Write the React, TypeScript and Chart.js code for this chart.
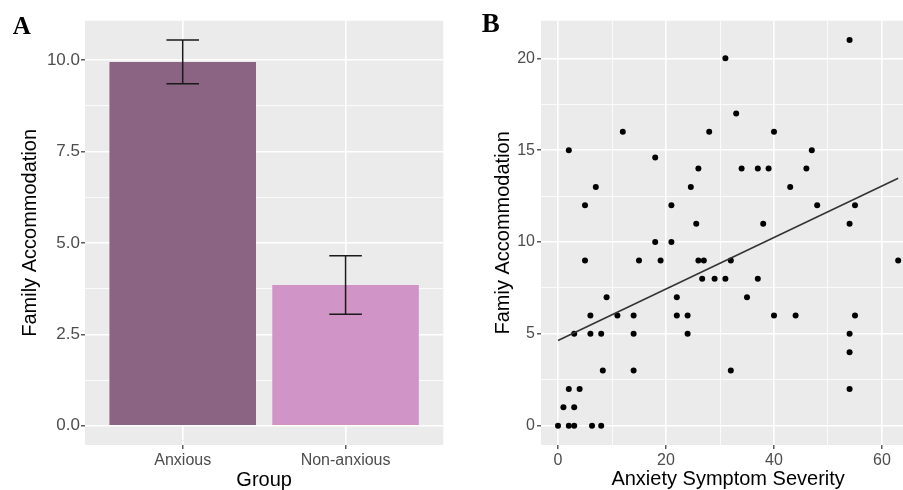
import React, { useEffect, useRef } from "react";
import { Chart, registerables } from "chart.js";
Chart.register(...registerables);

// ---------- Panel A data ----------
const groups = ["Anxious", "Non-anxious"];
const groupMeans = [9.95, 3.85];
const groupErrLow = [9.35, 3.05];
const groupErrHigh = [10.55, 4.65];
const groupColors = ["#8A6482", "#D194C6"];
const barYTicks = [0, 1.25, 2.5, 3.75, 5, 6.25, 7.5, 8.75, 10];
const barYLabels = ["0.0", "", "2.5", "", "5.0", "", "7.5", "", "10.0"];

// ---------- Panel B data ----------
const severity = [
  31, 12, 28, 2, 18, 26, 7, 24.6, 5, 21, 25.6,
  54, 33, 40, 47, 34, 37, 39, 46, 43, 48, 55, 38, 54,
  18, 21, 5, 15, 19, 26, 27, 26.7, 29, 31,
  9, 22,
  6, 11, 14, 22, 24,
  3, 6, 8, 14, 24,
  8.3, 14,
  2, 4,
  1, 3,
  0, 2, 3, 6.3, 8,
  32, 63, 37, 35, 40, 44, 55, 54, 54, 32, 54,
];
const accommodation = [
  20, 16, 16, 15, 14.6, 14, 13, 13, 12, 12, 11,
  21, 17, 16, 15, 14, 14, 14, 14, 13, 12, 12, 11, 11,
  10, 10, 9, 9, 9, 9, 9, 8, 8, 8,
  7, 7,
  6, 6, 6, 6, 6,
  5, 5, 5, 5, 5,
  3, 3,
  2, 2,
  1, 1,
  0, 0, 0, 0, 0,
  9, 9, 8, 7, 6, 6, 6, 5, 4, 3, 2,
];
const fitX = [0, 63];
const fitY = [4.64, 13.47];
const scatterXTicks = [0, 10, 20, 30, 40, 50, 60];
const scatterXLabels = ["0", "", "20", "", "40", "", "60"];
const scatterYTicks = [0, 2.5, 5, 7.5, 10, 12.5, 15, 17.5, 20];
const scatterYLabels = ["0", "", "5", "", "10", "", "15", "", "20"];

// ---------- styles ----------
const FONT = "'Liberation Sans', Arial, Helvetica, sans-serif";
const SERIF = "'Liberation Serif', 'Times New Roman', serif";
const PANEL_BG = "#EBEBEB";
const TICK_TEXT = "#4D4D4D";
const TICK_MARK = "#333333";

const bgPlugin = {
  id: "panelBg",
  beforeDraw(chart: any) {
    const { ctx, chartArea: a } = chart;
    ctx.save();
    ctx.fillStyle = PANEL_BG;
    ctx.fillRect(a.left, a.top, a.right - a.left, a.bottom - a.top);
    ctx.restore();
  },
};

function textPlugin(
  letter: string,
  letterX: number,
  letterY: number,
  letterSize: number,
  xTitle: string,
  xTitleY: number,
  yTitle: string,
  yTitleX: number
) {
  return {
    id: "texts",
    afterDraw(chart: any) {
      const { ctx, chartArea: a } = chart;
      ctx.save();
      ctx.fillStyle = "#000000";
      ctx.font = `20px ${FONT}`;
      ctx.textAlign = "center";
      ctx.textBaseline = "middle";
      ctx.fillText(xTitle, (a.left + a.right) / 2, xTitleY);
      ctx.save();
      ctx.translate(yTitleX, (a.top + a.bottom) / 2);
      ctx.rotate(-Math.PI / 2);
      ctx.fillText(yTitle, 0, 0);
      ctx.restore();
      ctx.font = `bold ${letterSize}px ${SERIF}`;
      ctx.textAlign = "left";
      ctx.textBaseline = "alphabetic";
      ctx.fillText(letter, letterX, letterY);
      ctx.restore();
    },
  };
}

const errorBarPlugin = {
  id: "errorBars",
  afterDatasetsDraw(chart: any) {
    const { ctx, scales } = chart;
    const xs = scales.x;
    const ys = scales.y;
    ctx.save();
    ctx.strokeStyle = "#1A1A1A";
    ctx.lineWidth = 1.5;
    groups.forEach((_, i) => {
      const xv = i + 1;
      const px = xs.getPixelForValue(xv);
      const half = xs.getPixelForValue(xv + 0.1) - px;
      const yl = ys.getPixelForValue(groupErrLow[i]);
      const yh = ys.getPixelForValue(groupErrHigh[i]);
      ctx.beginPath();
      ctx.moveTo(px, yl);
      ctx.lineTo(px, yh);
      ctx.moveTo(px - half, yl);
      ctx.lineTo(px + half, yl);
      ctx.moveTo(px - half, yh);
      ctx.lineTo(px + half, yh);
      ctx.stroke();
    });
    ctx.restore();
  },
};

function BarPanel() {
  const ref = useRef<HTMLCanvasElement | null>(null);
  useEffect(() => {
    if (!ref.current) return;
    const chart = new Chart(ref.current, {
      type: "bar",
      data: {
        datasets: [
          {
            data: groups.map((_, i) => ({ x: i + 1, y: groupMeans[i] })),
            backgroundColor: groupColors,
            borderWidth: 0,
            barPercentage: 0.9,
            categoryPercentage: 1.0,
          } as any,
        ],
      },
      options: {
        responsive: false,
        animation: false,
        events: [],
        layout: { padding: { top: 20.7, right: 6.7, left: 0, bottom: 0 } },
        plugins: { legend: { display: false }, tooltip: { enabled: false } },
        scales: {
          x: {
            type: "linear",
            min: 0.4,
            max: 2.6,
            offset: false,
            afterBuildTicks: (s: any) => {
              s.ticks = groups.map((_, i) => ({ value: i + 1 }));
            },
            afterFit: (s: any) => {
              s.height = 45;
            },
            ticks: {
              autoSkip: false,
              maxRotation: 0,
              padding: 2,
              color: TICK_TEXT,
              font: { family: FONT, size: 16 },
              callback: (_v: any, i: number) => groups[i],
            },
            grid: {
              color: "#FFFFFF",
              lineWidth: 1.6,
              offset: false,
              drawTicks: true,
              tickLength: 4,
              tickWidth: 1.2,
              tickColor: TICK_MARK,
            },
            border: { display: false },
          } as any,
          y: {
            type: "linear",
            min: -0.5275,
            max: 11.0775,
            afterBuildTicks: (s: any) => {
              s.ticks = barYTicks.map((v) => ({ value: v }));
            },
            afterFit: (s: any) => {
              s.width = 85;
            },
            ticks: {
              autoSkip: false,
              padding: 1,
              color: TICK_TEXT,
              font: { family: FONT, size: 17 },
              callback: (_v: any, i: number) => barYLabels[i],
            },
            grid: {
              color: "#FFFFFF",
              lineWidth: (c: any) => (barYLabels[c.index] ? 1.6 : 0.8),
              drawTicks: true,
              tickLength: 4,
              tickWidth: 1.2,
              tickColor: (c: any) => (barYLabels[c.index] ? TICK_MARK : "rgba(0,0,0,0)"),
            },
            border: { display: false },
          } as any,
        },
      },
      plugins: [
        bgPlugin,
        errorBarPlugin,
        textPlugin("A", 12.7, 34, 25, "Group", 480, "Family Accommodation", 30),
      ],
    });
    return () => chart.destroy();
  }, []);
  return (
    <canvas
      ref={ref}
      width={450}
      height={490}
      style={{ position: "absolute", left: 0, top: 0, width: 450, height: 490 }}
    />
  );
}

function ScatterPanel() {
  const ref = useRef<HTMLCanvasElement | null>(null);
  useEffect(() => {
    if (!ref.current) return;
    const chart = new Chart(ref.current, {
      type: "scatter",
      data: {
        datasets: [
          {
            type: "line",
            data: fitX.map((x, i) => ({ x, y: fitY[i] })),
            borderColor: "#333333",
            borderWidth: 1.5,
            pointRadius: 0,
            fill: false,
            showLine: true,
          } as any,
          {
            data: severity.map((x, i) => ({ x, y: accommodation[i] })),
            backgroundColor: "#000000",
            borderWidth: 0,
            pointRadius: 3,
          },
        ],
      },
      options: {
        responsive: false,
        animation: false,
        events: [],
        layout: { padding: { top: 20.7, right: 14.8, left: 0, bottom: 0 } },
        plugins: { legend: { display: false }, tooltip: { enabled: false } },
        scales: {
          x: {
            type: "linear",
            min: -3.15,
            max: 66.15,
            afterBuildTicks: (s: any) => {
              s.ticks = scatterXTicks.map((v) => ({ value: v }));
            },
            afterFit: (s: any) => {
              s.height = 45;
            },
            ticks: {
              autoSkip: false,
              maxRotation: 0,
              padding: 2,
              color: TICK_TEXT,
              font: { family: FONT, size: 16 },
              callback: (_v: any, i: number) => scatterXLabels[i],
            },
            grid: {
              color: "#FFFFFF",
              lineWidth: (c: any) => (scatterXLabels[c.index] ? 1.6 : 0.8),
              drawTicks: true,
              tickLength: 4,
              tickWidth: 1.2,
              tickColor: (c: any) => (scatterXLabels[c.index] ? TICK_MARK : "rgba(0,0,0,0)"),
            },
            border: { display: false },
          } as any,
          y: {
            type: "linear",
            min: -1.05,
            max: 22.05,
            afterBuildTicks: (s: any) => {
              s.ticks = scatterYTicks.map((v) => ({ value: v }));
            },
            afterFit: (s: any) => {
              s.width = 101;
            },
            ticks: {
              autoSkip: false,
              padding: 2,
              color: TICK_TEXT,
              font: { family: FONT, size: 16 },
              callback: (_v: any, i: number) => scatterYLabels[i],
            },
            grid: {
              color: "#FFFFFF",
              lineWidth: (c: any) => (scatterYLabels[c.index] ? 1.6 : 0.8),
              drawTicks: true,
              tickLength: 4,
              tickWidth: 1.2,
              tickColor: (c: any) => (scatterYLabels[c.index] ? TICK_MARK : "rgba(0,0,0,0)"),
            },
            border: { display: false },
          } as any,
        },
      },
      plugins: [
        bgPlugin,
        textPlugin("B", 41.7, 31.7, 27, "Anxiety Symptom Severity", 479, "Famiy Accommodation", 63),
      ],
    });
    return () => chart.destroy();
  }, []);
  return (
    <canvas
      ref={ref}
      width={490}
      height={490}
      style={{ position: "absolute", left: 440, top: 0, width: 490, height: 490 }}
    />
  );
}

export default function App() {
  return (
    <div
      style={{
        position: "absolute",
        left: 0,
        top: 0,
        width: 903,
        height: 490,
        overflow: "hidden",
        background: "#FFFFFF",
      }}
    >
      <BarPanel />
      <ScatterPanel />
    </div>
  );
}
